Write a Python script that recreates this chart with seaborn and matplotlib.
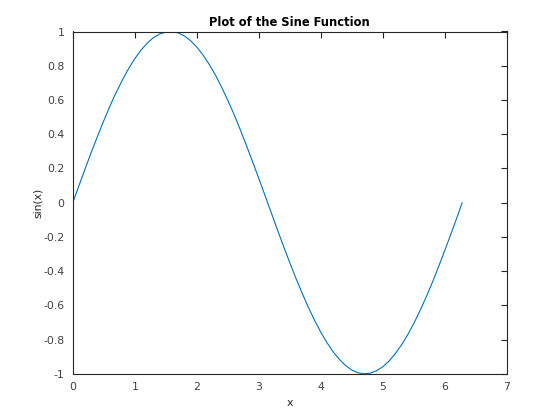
import matplotlib
matplotlib.use("Agg")
import matplotlib.pyplot as plt
import seaborn as sns
import pandas as pd

# valores
x_vals = [0.0, 0.1, 0.2, 0.3, 0.4, 0.5, 0.6, 0.7, 0.8, 0.9,
          1.0, 1.1, 1.2, 1.3, 1.4, 1.5, 1.6, 1.7, 1.8, 1.9,
          2.0, 2.1, 2.2, 2.3, 2.4, 2.5, 2.6, 2.7, 2.8, 2.9,
          3.0, 3.1, 3.2, 3.3, 3.4, 3.5, 3.6, 3.7, 3.8, 3.9,
          4.0, 4.1, 4.2, 4.3, 4.4, 4.5, 4.6, 4.7, 4.8, 4.9,
          5.0, 5.1, 5.2, 5.3, 5.4, 5.5, 5.6, 5.7, 5.8, 5.9,
          6.0, 6.1, 6.2, 6.28]
y_vals = [0.000, 0.100, 0.199, 0.296, 0.389, 0.479, 0.565, 0.644, 0.717, 0.783,
          0.841, 0.891, 0.932, 0.964, 0.985, 0.997, 1.000, 0.992, 0.974, 0.946,
          0.909, 0.863, 0.808, 0.746, 0.675, 0.598, 0.516, 0.427, 0.335, 0.239,
          0.141, 0.042, -0.058, -0.158, -0.256, -0.351, -0.443, -0.530, -0.612, -0.688,
          -0.757, -0.818, -0.872, -0.916, -0.952, -0.978, -0.994, -1.000, -0.996, -0.982,
          -0.959, -0.926, -0.883, -0.832, -0.773, -0.706, -0.631, -0.551, -0.465, -0.374,
          -0.279, -0.182, -0.083, 0.000]
x_ticks = [0, 1, 2, 3, 4, 5, 6, 7]
y_ticks = [-1, -0.8, -0.6, -0.4, -0.2, 0, 0.2, 0.4, 0.6, 0.8, 1]
y_labels = ["-1", "-0.8", "-0.6", "-0.4", "-0.2", "0", "0.2", "0.4", "0.6", "0.8", "1"]

df = pd.DataFrame({"x": x_vals, "y": y_vals})

sns.set_style("white")
plt.rcParams['font.family'] = ['DejaVu Sans']

fig = plt.figure(figsize=(5.6, 4.2), dpi=100)
ax = fig.add_axes([0.13, 0.11, 0.775, 0.815])
sns.lineplot(data=df, x="x", y="y", sort=False, estimator=None, color="#0072BD", linewidth=0.8, ax=ax)

ax.set_xlim(0, 7)
ax.set_ylim(-1, 1)
ax.set_xticks(x_ticks)
ax.set_yticks(y_ticks)
ax.set_yticklabels(y_labels)
ax.tick_params(direction="in", length=4, width=0.8, top=True, right=True,
               labelsize=7.8, colors="#262626", labelcolor="#404040", pad=6)
for s in ax.spines.values():
    s.set_color("#262626")
    s.set_linewidth(0.8)
    s.set_visible(True)
ax.set_xlabel("x", fontsize=7.8, color="#262626")
ax.set_ylabel("sin(x)", fontsize=7.8, color="#262626", labelpad=0)
ax.set_title("Plot of the Sine Function", fontsize=8.3, fontweight="bold", color="black", pad=4)

fig.savefig("out.png", dpi=100)
